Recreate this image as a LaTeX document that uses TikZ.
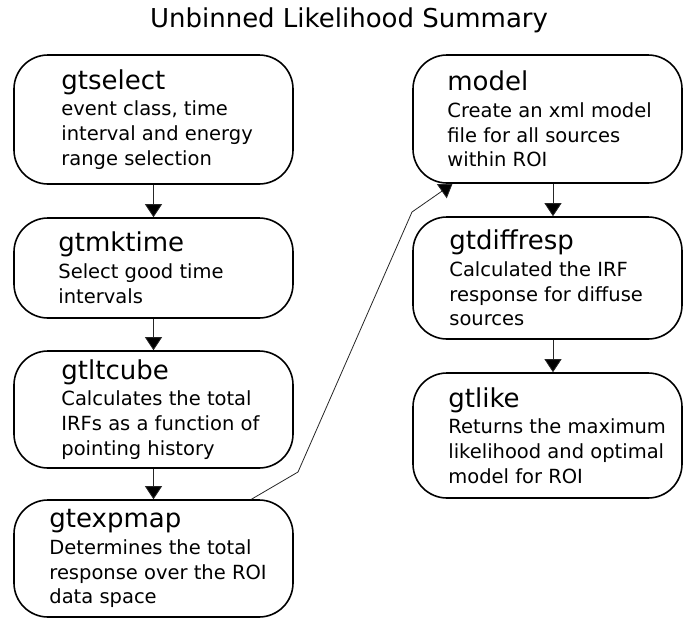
\documentclass[tikz,border=0pt]{standalone}
\usepackage{fontspec}
\setmainfont{DejaVu Sans}
\usetikzlibrary{positioning,arrows.meta}
\newcommand{\toolname}[1]{{\fontsize{26}{30}\selectfont #1}\\[2pt]}

\begin{document}
\begin{tikzpicture}[x=1pt,y=-1pt,
  box/.style={draw,line width=1.6pt,rounded corners=34pt,minimum width=279pt,inner sep=0pt},
  rbox/.style={box,minimum width=269pt},
  txt/.style={anchor=west,align=left,inner sep=0pt,font=\fontsize{19.5}{24.8}\selectfont},
  link/.style={draw=black!85,line width=0.8pt,-{Triangle[width=17pt,length=13pt,fill=black]}}]

\useasboundingbox (0,0) rectangle (683,619);

\node[anchor=base,inner sep=0pt,font=\fontsize{26}{30}\selectfont] (title) at (349,27) {Unbinned Likelihood Summary};

% left column
\node[box,minimum height=129pt] (select) at (153.5,119.5) {};
\node[box,minimum height=100pt] (mktime) at (153.5,268) {};
\node[box,minimum height=117pt] (ltcube) at (153.5,409.5) {};
\node[box,minimum height=117pt] (expmap) at (153.5,558.5) {};

\node[txt,right=48pt of select.west] (selectT) {\toolname{gtselect}event class, time\\interval and energy\\range selection};
\node[txt,right=45pt of mktime.west] (mktimeT) {\toolname{gtmktime}Select good time\\intervals};
\node[txt,right=48pt of ltcube.west] (ltcubeT) {\toolname{gtltcube}Calculates the total\\IRFs as a function of\\pointing history};
\node[txt,right=36pt of expmap.west] (expmapT) {\toolname{gtexpmap}Determines the total\\response over the ROI\\data space};

% right column
\node[rbox,minimum height=128pt] (model) at (547.5,119) {};
\node[rbox,minimum height=122pt] (diffresp) at (547.5,278) {};
\node[rbox,minimum height=125pt] (like) at (547.5,435.5) {};

\node[txt,right=35pt of model.west] (modelT) {\toolname{model}Create an xml model\\file for all sources\\within ROI};
\node[txt,right=37pt of diffresp.west] (diffrespT) {\toolname{gtdiffresp}Calculated the IRF\\response for diffuse\\sources};
\node[txt,right=36pt of like.west] (likeT) {\toolname{gtlike}Returns the maximum\\likelihood and optimal\\model for ROI};

% connectors
\draw[link] (select) -- (mktime);
\draw[link] (mktime) -- (ltcube);
\draw[link] (ltcube) -- (expmap);
\draw[link] ([xshift=5.5pt]model.south) -- ([xshift=5.5pt]diffresp.north);
\draw[link] ([xshift=5.5pt]diffresp.south) -- ([xshift=5.5pt]like.north);

\coordinate (bendA) at (298,472);
\coordinate (bendB) at (412,212);
\draw[link] ([xshift=98pt]expmap.north) -- (bendA) -- (bendB) -- ([xshift=-95pt]model.south);

\end{tikzpicture}
\end{document}
